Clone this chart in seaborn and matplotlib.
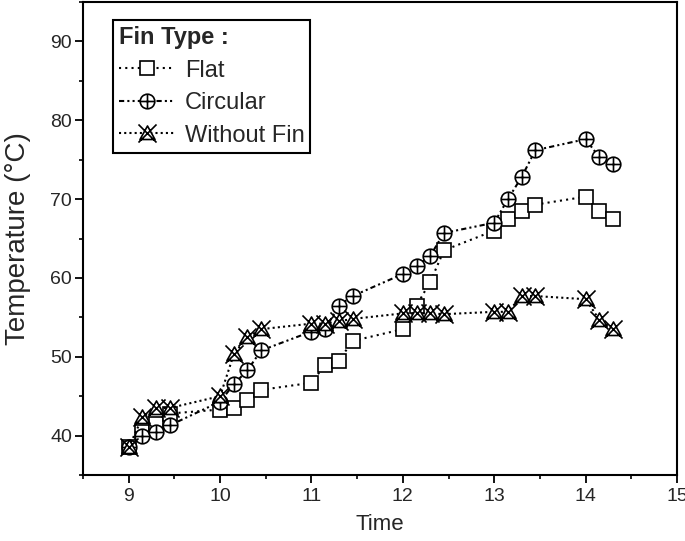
import numpy as np
import pandas as pd
import seaborn as sns
import matplotlib.pyplot as plt
from matplotlib.path import Path
from matplotlib.ticker import MultipleLocator

# Data
time = [9.0, 9.15, 9.3, 9.45, 10.0, 10.15, 10.3, 10.45, 11.0, 11.15, 11.3, 11.45,
        12.0, 12.15, 12.3, 12.45, 13.0, 13.15, 13.3, 13.45, 14.0, 14.15, 14.3]
flat = [38.5, 40.5, 41.5, 42.8, 43.3, 43.5, 44.5, 45.8, 46.7, 49.0, 49.5, 52.0,
        53.5, 56.5, 59.5, 63.5, 66.0, 67.5, 68.5, 69.3, 70.3, 68.5, 67.5]
circular = [38.5, 40.0, 40.5, 41.3, 44.3, 46.5, 48.3, 50.8, 53.2, 53.5, 56.5, 57.7,
            60.5, 61.5, 62.8, 65.7, 67.0, 70.0, 72.8, 76.2, 77.6, 75.3, 74.4]
without_fin = [38.5, 42.3, 43.5, 43.5, 45.0, 50.3, 52.5, 53.5, 54.2, 54.2, 54.5, 54.8,
               55.5, 55.5, 55.5, 55.4, 55.7, 55.7, 57.7, 57.7, 57.3, 54.7, 53.5]
labels = ['Flat', 'Circular', 'Without Fin']

df = pd.DataFrame({'Time': time, 'Flat': flat, 'Circular': circular, 'Without Fin': without_fin})

sns.set_style('ticks')
plt.rcParams['font.family'] = ['Liberation Sans', 'DejaVu Sans']

# circle with a cross inside
circ_plus = Path.make_compound_path(
    Path.unit_circle(),
    Path([(-1, 0), (1, 0), (0, -1), (0, 1)],
         [Path.MOVETO, Path.LINETO, Path.MOVETO, Path.LINETO]))
# triangle with an X over it
tri_x = Path.make_compound_path(
    Path([(0, 0.75), (-0.75, -0.6), (0.75, -0.6), (0, 0.75)],
         [Path.MOVETO, Path.LINETO, Path.LINETO, Path.CLOSEPOLY]),
    Path([(-0.9, 0.9), (0.9, -0.9), (0.9, 0.9), (-0.9, -0.9)],
         [Path.MOVETO, Path.LINETO, Path.MOVETO, Path.LINETO]))
markers = {'Flat': 's', 'Circular': circ_plus, 'Without Fin': tri_x}
dashes = {'Flat': (1, 2), 'Circular': (2.5, 1.5, 1, 1.5, 1, 1.5), 'Without Fin': (1, 1.5)}
sizes = {'Flat': 10, 'Circular': 10.5, 'Without Fin': 13}

fig, ax = plt.subplots(figsize=(6.85, 5.41), dpi=100)
fig.subplots_adjust(left=83/685, right=677/685, top=1-2/541, bottom=1-475/541)

for name in labels:
    sns.lineplot(data=df, x='Time', y=name, ax=ax, color='black', label=name,
                 marker=markers[name], markersize=sizes[name], markerfacecolor='white',
                 markeredgecolor='black', markeredgewidth=1.2, linewidth=1.5,
                 dashes=dashes[name])

ax.set_xlim(8.5, 15)
ax.set_ylim(35, 95)
ax.xaxis.set_major_locator(MultipleLocator(1))
ax.xaxis.set_minor_locator(MultipleLocator(0.5))
ax.yaxis.set_minor_locator(MultipleLocator(5))
ax.set_yticks([40, 50, 60, 70, 80, 90])
ax.tick_params(which='major', direction='out', length=6, width=1.3, labelsize=14, color='black')
ax.tick_params(axis='y', pad=2)
ax.tick_params(which='minor', direction='out', length=3, width=1.2, color='black')
for sp in ax.spines.values():
    sp.set_linewidth(1.5)
    sp.set_color('black')
ax.set_xlabel('Time', fontsize=16, labelpad=6)
ax.set_ylabel('Temperature (°C)', fontsize=20, labelpad=14)

leg = ax.legend(title='Fin Type :', loc='upper left', bbox_to_anchor=(0.05, 0.962),
                borderaxespad=0, fontsize=17, title_fontproperties={'weight': 'bold', 'size': 17},
                alignment='left', handlelength=2.4, handletextpad=0.4, labelspacing=0.45,
                frameon=True, fancybox=False, edgecolor='black', framealpha=1,
                borderpad=0.25)
leg.get_frame().set_linewidth(1.5)

plt.savefig('out.png', dpi=100)
